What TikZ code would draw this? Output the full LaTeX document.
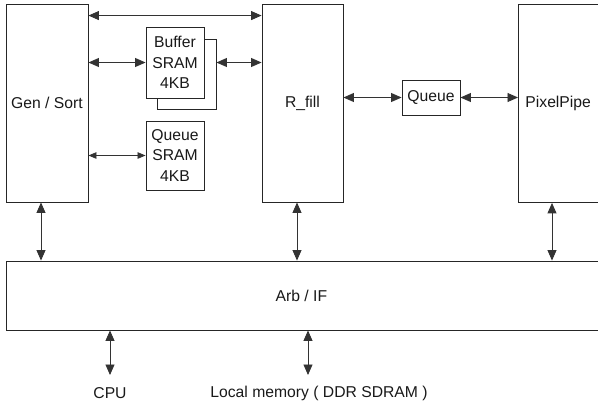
\documentclass[tikz,border=0pt]{standalone}
\usepackage{fontspec}
\setmainfont{Liberation Sans}
\usetikzlibrary{arrows.meta}
\begin{document}
\begin{tikzpicture}[x=1pt,y=-1pt,
  every node/.style={font=\fontsize{15.7}{20.5}\selectfont, text=black!90},
  box/.style={draw=black!85, line width=0.9pt, fill=white, inner sep=0pt, align=center},
  dbl/.style={draw=black!80, line width=0.9pt, {Triangle[length=10.5pt,width=9pt]}-{Triangle[length=10.5pt,width=9pt]}},
  dblsmall/.style={draw=black!80, line width=0.8pt, {Triangle[length=8pt,width=6.5pt]}-{Triangle[length=8pt,width=6.5pt]}},
  plain/.style={inner sep=0pt}]
\useasboundingbox (0,0) rectangle (598,405);
% main blocks
\node (gen) [box, minimum width=82, minimum height=198] at (47,103) {Gen / Sort};
\node (rfill) [box, minimum width=81, minimum height=198] at (302.5,103) {R\_fill};
\node (pp) [box, anchor=north west, minimum height=198, text width=90, inner xsep=7pt, align=left] at (518,4) {PixelPipe};
\node (arb) [box, anchor=west, minimum width=620, minimum height=69] at (6,295.5) {\hspace*{-30pt}Arb / IF};
% memories
\node (bufback) [box, minimum width=59, minimum height=70] at (186.5,74) {};
\node (buf) [box, minimum width=58, minimum height=71] at (175,62.5) {Buffer\\SRAM\\4KB};
\node (qs) [box, minimum width=58, minimum height=69] at (175,155.5) {Queue\\SRAM\\4KB};
\node (queue) [box, minimum width=58, minimum height=35] at (431,97.5) {Queue};
% bottom labels
\node (cpu) [plain] at (110,393) {CPU};
\node (mem) [plain] at (319,393) {Local memory ( DDR SDRAM )};
\coordinate (cpuend) at (110,375);
\coordinate (memend) at (308,375);
% horizontal connectors
\draw[dbl] ([yshift=-12pt]gen.north east) -- ([yshift=-12pt]rfill.north west);
\draw[dbl] (gen.east |- buf.west) -- (buf.west);
\draw[dbl] (bufback.east |- buf.west) -- (rfill.west |- buf.west);
\draw[dblsmall] (gen.east |- qs.west) -- (qs.west);
\draw[dbl] (rfill.east |- queue.west) -- (queue.west);
\draw[dbl] (queue.east) -- (pp.west |- queue.east);
% vertical connectors
\draw[dbl] ([xshift=-6pt]gen.south) -- ([xshift=-6pt]gen.south |- arb.north);
\draw[dbl] ([xshift=-5.5pt]rfill.south) -- ([xshift=-5.5pt]rfill.south |- arb.north);
\draw[dbl] ([xshift=34pt]pp.south west) -- ([xshift=34pt]pp.south west |- arb.north);
\draw[dbl] (cpuend |- arb.south) -- (cpuend);
\draw[dbl] (memend |- arb.south) -- (memend);
\end{tikzpicture}
\end{document}
